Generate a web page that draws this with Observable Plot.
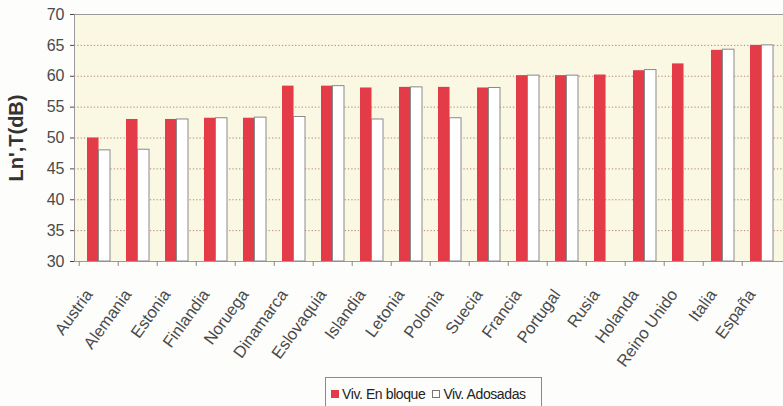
<!DOCTYPE html>
<html><head><meta charset="utf-8">
<script src="https://cdn.jsdelivr.net/npm/d3@7"></script>
<script src="https://cdn.jsdelivr.net/npm/@observablehq/plot@0.6"></script>
<style>
html,body{margin:0;padding:0;background:#fdfdfb;overflow:hidden;width:783px;height:406px;font-family:"Liberation Sans",Arial,sans-serif}
#chart svg{display:block;overflow:visible;background:transparent}
#chart [aria-label="y-axis label"] text{font-weight:bold;font-size:20px;fill:#333}
.legend{position:absolute;left:325px;top:377px;width:217px;height:34px;border:1px solid #8a8a8a;box-sizing:border-box;background:#fdfdfb;font-size:14px;color:#222;padding:8px 0 0 5px;white-space:nowrap;letter-spacing:-0.4px}
.legend span.sw{display:inline-block;width:6px;height:6px;border:1px solid #777;margin-right:3px;vertical-align:middle;position:relative;top:-1px}
.legend span.it{margin-right:7px}
</style></head><body>
<div id="chart"></div>
<div class="legend" id="legend"></div>
<script>
const countries = ["Austria","Alemania","Estonia","Finlandia","Noruega","Dinamarca","Eslovaquia","Islandia","Letonia","Polonia","Suecia","Francia","Portugal","Rusia","Holanda","Reino Unido","Italia","España"];
const bloque   = [50.0, 53.0, 53.0, 53.2, 53.2, 58.4, 58.4, 58.1, 58.2, 58.2, 58.1, 60.1, 60.1, 60.2, 60.9, 62.0, 64.2, 65.0];
const adosadas = [48.0, 48.1, 53.0, 53.2, 53.3, 53.4, 58.4, 53.0, 58.2, 53.2, 58.1, 60.1, 60.1, null, 61.0, null, 64.3, 65.0];
const yTicks = [30, 35, 40, 45, 50, 55, 60, 65, 70];
const gridTicks = [35, 40, 45, 50, 55, 60, 65];
const seriesNames = ["Viv. En bloque", "Viv. Adosadas"];
const seriesColors = ["#e33c48", "#ffffff"];
const yLabel = "Ln',T(dB)";

const W = 783, H = 375, mL = 74, mR = -3, mT = 14, mB = 114;
const padIn = 0.42, padOut = 0.21;
const step = (W - mL - mR) / (countries.length - padIn + 2 * padOut);
const bw = step * (1 - padIn);

const rows = countries.map((c, i) => ({country: c, bloque: bloque[i], adosadas: adosadas[i]}));
const rowsA = rows.filter(d => d.adosadas != null);

const chart = Plot.plot({
  width: W, height: H,
  marginLeft: mL, marginRight: mR, marginTop: mT, marginBottom: mB,
  style: {fontFamily: "'Liberation Sans', Arial, sans-serif", background: "transparent", overflow: "visible"},
  x: {domain: countries, paddingInner: padIn, paddingOuter: padOut, axis: null},
  y: {domain: [yTicks[0], yTicks[yTicks.length - 1]], axis: null},
  marks: [
    Plot.frame({fill: "#faf8e2", stroke: "#9a9a9a", strokeWidth: 1}),
    Plot.ruleY(gridTicks, {stroke: "#b5877f", strokeWidth: 1, strokeDasharray: "1.3,2"}),
    Plot.barY(rows, {x: "country", y1: yTicks[0], y2: "bloque", fill: seriesColors[0], insetRight: bw / 2}),
    Plot.barY(rowsA, {x: "country", y1: yTicks[0], y2: "adosadas", fill: seriesColors[1], stroke: "#8a8a8a", strokeWidth: 1, insetLeft: bw / 2}),
    Plot.axisY({ticks: yTicks, tickSize: 4, tickPadding: 6, fontSize: 16, color: "#4a4a4a", label: yLabel, labelAnchor: "center", labelArrow: "none", labelOffset: 66}),
    Plot.axisX({tickSize: 5, tickFormat: () => "", dx: -step / 2, stroke: "#8a8a8a", label: null}),
    Plot.axisX({tickSize: 0, tickPadding: 30, dx: -10, tickRotate: -54, fontSize: 16.5, color: "#4a4a4a", label: null})
  ]
});
document.getElementById("chart").appendChild(chart);

const lg = document.getElementById("legend");
seriesNames.forEach((n, i) => {
  const it = document.createElement("span"); it.className = "it";
  const sw = document.createElement("span"); sw.className = "sw";
  sw.style.background = seriesColors[i];
  if (i === 0) sw.style.borderColor = seriesColors[0];
  it.appendChild(sw);
  it.appendChild(document.createTextNode(n));
  lg.appendChild(it);
});
</script>
</body></html>
